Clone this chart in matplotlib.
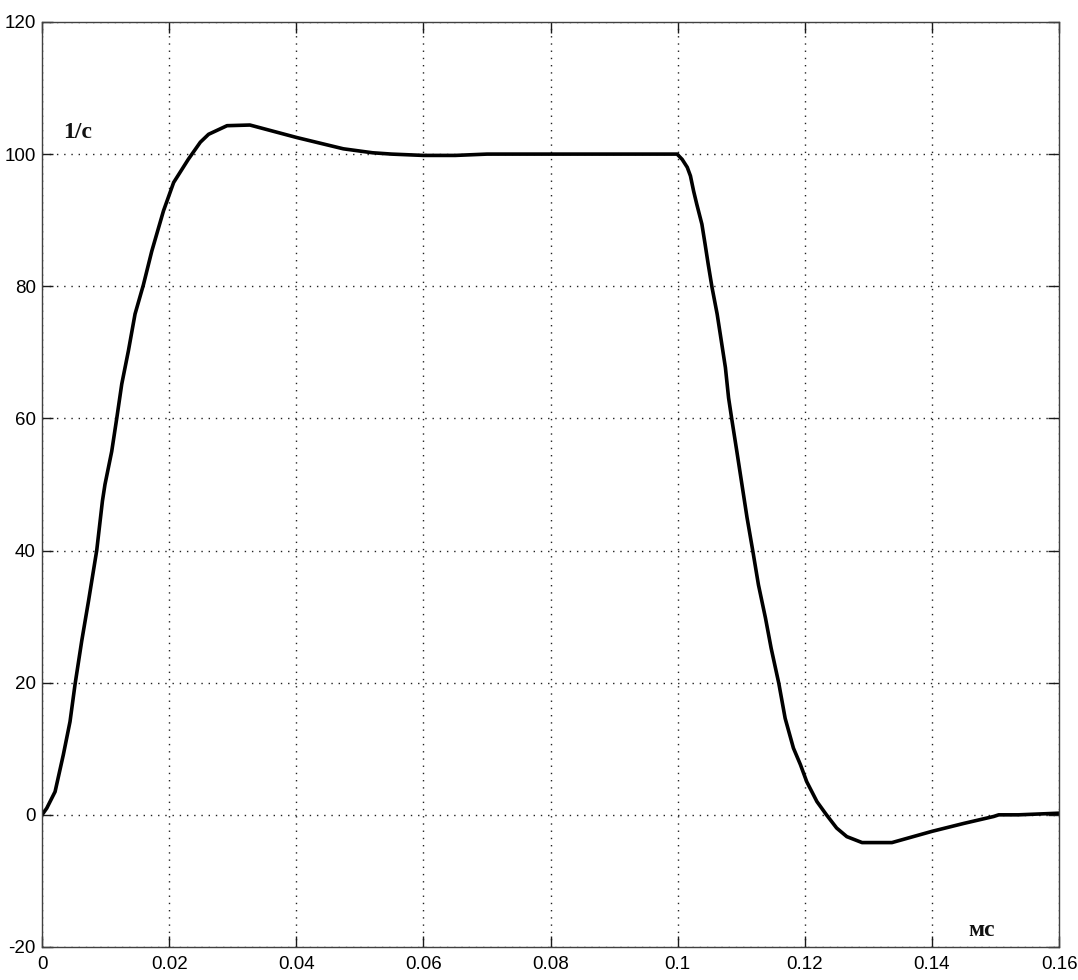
import matplotlib
matplotlib.use("Agg")
import matplotlib.pyplot as plt

# переходный процесс скорости, точки
t = [0, 0.00074, 0.00205, 0.00335, 0.0044, 0.0052, 0.00624, 0.0073, 0.0086, 0.0095,
     0.0099, 0.01096, 0.01175, 0.01254, 0.01358, 0.01463, 0.01594, 0.01726, 0.0191, 0.0207,
     0.023, 0.0249, 0.0262, 0.0291, 0.0327, 0.0401, 0.0474, 0.052, 0.055, 0.06,
     0.065, 0.07, 0.08, 0.09, 0.0999,
     0.1007, 0.1015, 0.102, 0.1025, 0.103, 0.1038, 0.1043, 0.1048, 0.1054, 0.1062,
     0.1067, 0.1075, 0.108, 0.1085, 0.1093, 0.1101, 0.1109, 0.1118, 0.1127, 0.1138,
     0.1147, 0.1159, 0.1169, 0.1182, 0.1193, 0.1203, 0.1219, 0.1234, 0.125, 0.1266,
     0.129, 0.1337, 0.14, 0.145, 0.1497, 0.1505, 0.1536, 0.16]
w = [0, 1.0, 3.5, 9.1, 14.1, 19.8, 26.3, 32.3, 40, 47.5,
     50, 55, 60, 65.2, 70.2, 75.8, 80.2, 85.3, 91.4, 95.7,
     99.2, 101.8, 103.0, 104.3, 104.4, 102.5, 100.8, 100.2, 100.0, 99.8,
     99.8, 100, 100, 100, 100,
     99.2, 98.0, 96.7, 94.4, 92.4, 89.4, 86.4, 83.3, 79.8, 75.8,
     72.7, 67.7, 63.1, 59.9, 55, 50, 45, 40, 34.8, 29.8,
     25.2, 19.9, 14.6, 10.1, 7.6, 5.0, 2.0, 0, -2.0, -3.3,
     -4.2, -4.2, -2.5, -1.3, -0.25, 0, 0, 0.25]

x_ticks = [0, 0.02, 0.04, 0.06, 0.08, 0.1, 0.12, 0.14, 0.16]
x_labels = ["0", "0.02", "0.04", "0.06", "0.08", "0.1", "0.12", "0.14", "0.16"]
y_ticks = [-20, 0, 20, 40, 60, 80, 100, 120]
y_labels = ["-20", "0", "20", "40", "60", "80", "100", "120"]

sans = ["Liberation Sans Narrow", "Liberation Sans", "DejaVu Sans"]
serif = ["Liberation Serif", "DejaVu Serif"]

fig = plt.figure(figsize=(10.78, 9.8), dpi=100)
ax = fig.add_axes([0.039, 0.0337, 0.9435, 0.9439])

ax.plot(t, w, color="black", linewidth=2.6, solid_joinstyle="round")

ax.set_xlim(0, 0.16)
ax.set_ylim(-20, 120)
ax.set_xticks(x_ticks)
ax.set_xticklabels(x_labels, family=sans, fontsize=13.5)
ax.set_yticks(y_ticks)
ax.set_yticklabels(y_labels, family=sans, fontsize=13.5)

ax.tick_params(direction="in", length=7.9, width=1.0, color="#1a1a1a",
               top=True, right=True)
ax.tick_params(axis="x", pad=6.5)
ax.tick_params(axis="y", pad=4.5)

ax.grid(True, color="#222222", linestyle=(0, (1, 4.2)), linewidth=1.0)

for s in ax.spines.values():
    s.set_color("#404040")
    s.set_linewidth(1.0)

ax.text(0.0033, 102.4, "1/c", family=serif, fontweight="bold", fontsize=17,
        ha="left", va="baseline", color="#111111")
ax.text(0.1457, -18.4, "мс", family=serif, fontweight="bold", fontsize=17,
        ha="left", va="baseline", color="#111111")

fig.savefig("out.png", dpi=100, facecolor="white")
